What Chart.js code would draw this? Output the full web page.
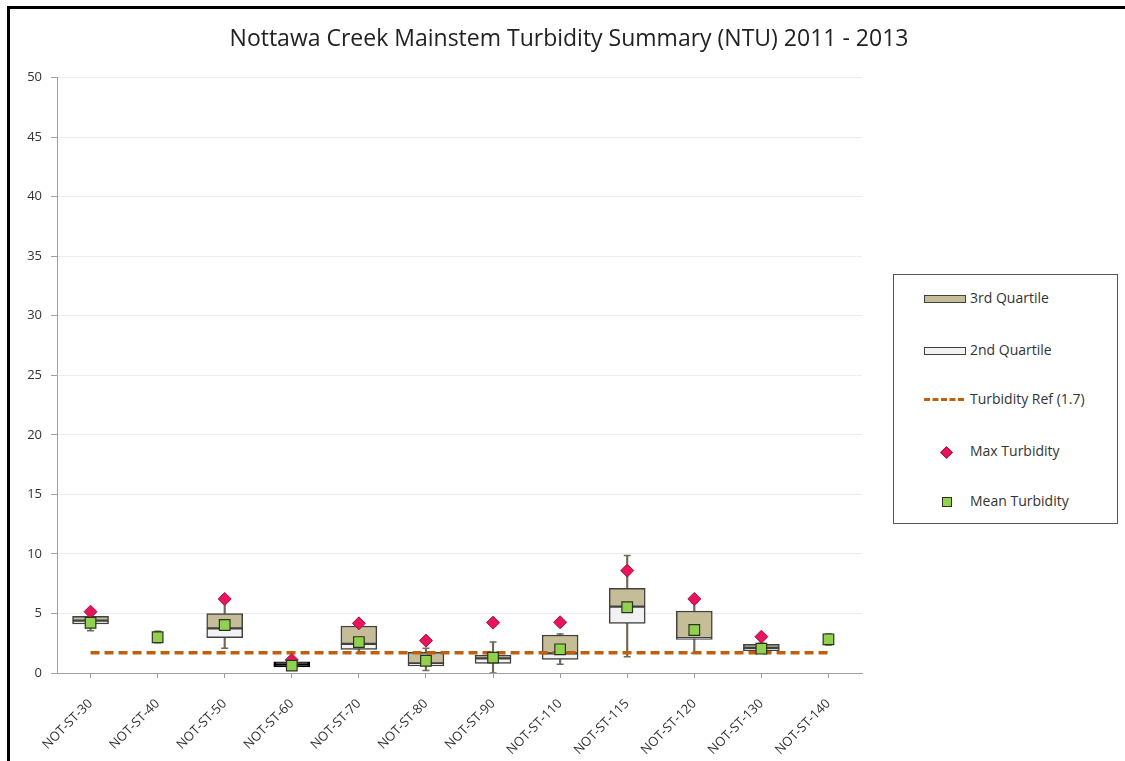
<!DOCTYPE html>
<html>
<head>
<meta charset="utf-8">
<script src="https://cdn.jsdelivr.net/npm/chart.js@4.4.1/dist/chart.umd.min.js"></script>
<style>
  html, body { margin: 0; padding: 0; background: #fff; }
  #wrap { position: relative; width: 1125px; height: 761px; overflow: hidden; font-family: "Open Sans", sans-serif; }
  #frame { position: absolute; left: 7px; top: 6px; width: 1200px; height: 800px;
           border-left: 3px solid #000; border-top: 3px solid #000; }
  canvas { position: absolute; left: 0; top: 0; }
  #legend { position: absolute; left: 893px; top: 274px; width: 223px; height: 248px;
            border: 1.5px solid #555; background: #fff; }
  .item { position: absolute; left: 0; width: 100%; height: 0; }
  .sw { position: absolute; }
  .txt { position: absolute; left: 76px; top: -11px; font-size: 14px; line-height: 20px; color: #333; white-space: nowrap; }
</style>
</head>
<body>
<div id="wrap">
  <div id="frame"></div>
  <canvas id="c" width="1125" height="761"></canvas>
  <div id="legend"></div>
</div>
<script>
// Monitoring stations along the mainstem
const categories = ['NOT-ST-30', 'NOT-ST-40', 'NOT-ST-50', 'NOT-ST-60', 'NOT-ST-70', 'NOT-ST-80',
                    'NOT-ST-90', 'NOT-ST-110', 'NOT-ST-115', 'NOT-ST-120', 'NOT-ST-130', 'NOT-ST-140'];

// Turbidity statistics (NTU)
const q1Values      = [4.12, null, 2.97, 0.52, 1.99, 0.59, 0.81, 1.15, 4.17, 2.83, 1.85, null];
const medianValues  = [4.40, null, 3.75, 0.73, 2.44, 0.81, 1.23, 1.65, 5.57, 2.92, 2.12, null];
const q3Values      = [4.75, null, 4.98, 0.94, 3.95, 1.74, 1.51, 3.19, 7.12, 5.21, 2.40, null];
const whiskerLow    = [3.55, 2.55, 2.07, null, 1.65, 0.20, 0.00, 0.73, 1.37, 1.65, 1.95, 2.35];
const whiskerHigh   = [4.90, 3.50, 6.00, null, 4.00, 2.07, 2.60, 3.28, 9.86, 5.90, 2.50, 3.28];
const maxTurbidity  = [5.15, null, 6.22, 1.10, 4.17, 2.72, 4.23, 4.26, 8.60, 6.22, 3.05, null];
const meanTurbidity = [4.22, 3.00, 4.03, 0.62, 2.60, 1.03, 1.29, 1.99, 5.52, 3.61, 2.04, 2.83];
const turbidityRef  = [1.7, 1.7, 1.7, 1.7, 1.7, 1.7, 1.7, 1.7, 1.7, 1.7, 1.7, 1.7];

// Y axis tick range
const yMin = 0, yMax = 50, yStep = 5;

const pair = (a, b) => a.map((v, i) => (v == null || b[i] == null) ? null : [v, b[i]]);

const COL = {
  tan: '#c4bd97', light: '#f2f2f2', boxEdge: '#404040', whisker: '#6e6a55',
  ref: '#c0600c', max: '#e8145c', maxEdge: '#a80f45', mean: '#92d050', meanEdge: '#2a3320'
};

Chart.defaults.font.family = '"Open Sans", sans-serif';

// boxes with a very small spread are drawn as a solid black bar
const isNarrow = ctx => {
  const i = ctx.dataIndex;
  return q1Values[i] != null && q3Values[i] - q1Values[i] < 0.5;
};
const edgeColor = ctx => isNarrow(ctx) ? '#000' : COL.boxEdge;
const edgeWidth = ctx => isNarrow(ctx) ? 2 : 1.5;
const fillFor = base => ctx => isNarrow(ctx) ? '#111' : base;

const boxCommon = { type: 'bar', borderColor: edgeColor, borderWidth: edgeWidth, borderSkipped: false,
                    barThickness: 36, grouped: false };
const markCommon = { type: 'line', showLine: false, pointHoverRadius: 0 };

const chart = new Chart(document.getElementById('c'), {
  data: {
    labels: categories,
    datasets: [
      { type: 'bar', label: 'whisker', data: pair(whiskerLow, whiskerHigh), backgroundColor: COL.whisker,
        barThickness: 1.5, grouped: false, order: 10 },
      { ...markCommon, label: 'whisker low', data: whiskerLow, pointStyle: 'line', pointRadius: 3.5,
        borderColor: COL.whisker, borderWidth: 1.5, order: 9 },
      { ...markCommon, label: 'whisker high', data: whiskerHigh, pointStyle: 'line', pointRadius: 3.5,
        borderColor: COL.whisker, borderWidth: 1.5, order: 9 },
      { ...boxCommon, label: '2nd Quartile', data: pair(q1Values, medianValues),
        backgroundColor: fillFor(COL.light), legendFill: COL.light, order: 8 },
      { ...boxCommon, label: '3rd Quartile', data: pair(medianValues, q3Values),
        backgroundColor: fillFor(COL.tan), legendFill: COL.tan, order: 7 },
      { type: 'line', label: 'Turbidity Ref (1.7)', data: turbidityRef, borderColor: COL.ref,
        borderDash: [9, 5], borderWidth: 3.5, pointRadius: 0, order: 3 },
      { ...markCommon, label: 'Max Turbidity', data: maxTurbidity, pointStyle: 'rectRot', pointRadius: 6.5,
        backgroundColor: COL.max, borderColor: COL.maxEdge, borderWidth: 1, order: 2 },
      { ...markCommon, label: 'Mean Turbidity', data: meanTurbidity, pointStyle: 'rect', pointRadius: 7.5,
        backgroundColor: COL.mean, borderColor: COL.meanEdge, borderWidth: 1.2, order: 1 }
    ]
  },
  options: {
    responsive: false,
    animation: false,
    layout: { padding: { left: 13, right: 0, top: 0, bottom: 0 } },
    plugins: {
      legend: { display: false },
      tooltip: { enabled: false },
      title: {
        display: true,
        text: 'Nottawa Creek Mainstem Turbidity Summary (NTU) 2011 - 2013',
        color: '#222',
        font: { size: 23, weight: 'normal' },
        padding: { top: 26, bottom: 24 }
      }
    },
    scales: {
      x: {
        type: 'category',
        offset: true,
        grid: { display: true, drawOnChartArea: false, offset: false, tickLength: 5, tickColor: '#9a9a9a' },
        border: { color: '#a0a0a0', width: 1 },
        ticks: { minRotation: 45, maxRotation: 45, autoSkip: false, color: '#333', font: { size: 13 }, padding: 18 },
        afterFit: s => { s.height = 88; }
      },
      y: {
        min: yMin, max: yMax,
        ticks: { stepSize: yStep, color: '#333', font: { size: 13 }, padding: 9 },
        grid: { color: '#ececec', tickColor: '#a0a0a0', tickLength: 6 },
        border: { color: '#a0a0a0', width: 1 },
        afterFit: s => { s.width = 44; }
      },
      yR: {
        position: 'right',
        display: true,
        grid: { display: false },
        ticks: { display: false },
        border: { display: false },
        afterFit: s => { s.width = 263; }
      }
    }
  }
});

// Legend box built from the chart's own dataset styles
const ds = chart.data.datasets;
const byLabel = l => ds.find(d => d.label === l);
const legendRows = [
  { label: '3rd Quartile', y: 24, kind: 'box' },
  { label: '2nd Quartile', y: 76, kind: 'box' },
  { label: 'Turbidity Ref (1.7)', y: 125, kind: 'dash' },
  { label: 'Max Turbidity', y: 177, kind: 'diamond' },
  { label: 'Mean Turbidity', y: 227, kind: 'square' }
];
const legendEl = document.getElementById('legend');
legendRows.forEach(r => {
  const d = byLabel(r.label);
  const item = document.createElement('div');
  item.className = 'item';
  item.style.top = r.y + 'px';
  const sw = document.createElement('div');
  sw.className = 'sw';
  if (r.kind === 'box') {
    Object.assign(sw.style, { left: '30px', top: '-4px', width: '40px', height: '6px',
      background: d.legendFill, border: '1.5px solid ' + COL.boxEdge });
  } else if (r.kind === 'dash') {
    Object.assign(sw.style, { left: '30px', top: '-2px', width: '40px', height: '0',
      borderTop: '3.5px dashed ' + d.borderColor });
  } else if (r.kind === 'diamond') {
    Object.assign(sw.style, { left: '48px', top: '-4px', width: '7px', height: '7px',
      background: d.backgroundColor, border: '1px solid ' + d.borderColor, transform: 'rotate(45deg)' });
  } else {
    Object.assign(sw.style, { left: '48px', top: '-5px', width: '8px', height: '8px',
      background: d.backgroundColor, border: '1.2px solid ' + d.borderColor });
  }
  const t = document.createElement('div');
  t.className = 'txt';
  t.textContent = r.label;
  item.appendChild(sw);
  item.appendChild(t);
  legendEl.appendChild(item);
});
</script>
</body>
</html>
